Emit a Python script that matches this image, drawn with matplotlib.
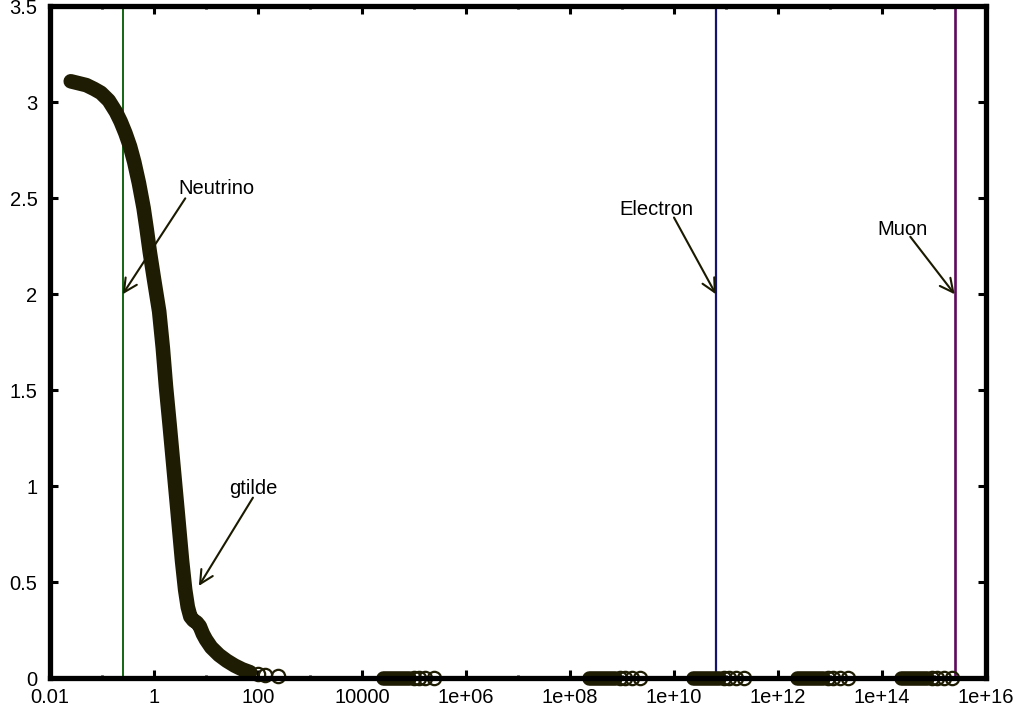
import numpy as np
import matplotlib
matplotlib.use('Agg')
import matplotlib.pyplot as plt
from matplotlib.ticker import FixedLocator, NullFormatter

plt.rcParams['font.family'] = ['Liberation Sans', 'DejaVu Sans']

# gtilde curve (dense part drawn as a thick band, tail as open circles)
curve_x = [0.0251, 0.0355, 0.0501, 0.0708, 0.0955, 0.135, 0.186, 0.229,
           0.282, 0.347, 0.417, 0.513, 0.631, 0.724, 0.832, 1.0, 1.26, 1.48,
           1.70, 2.0, 2.32, 2.82, 3.47, 3.98, 4.47, 5.01, 5.75, 6.61, 7.59,
           8.71, 10.0, 12.6, 17.8, 25.1, 35.5, 50.1, 70.8]
curve_y = [3.11, 3.10, 3.09, 3.07, 3.05, 3.01, 2.95, 2.90,
           2.84, 2.77, 2.69, 2.58, 2.45, 2.34, 2.22, 2.08, 1.91, 1.72,
           1.52, 1.32, 1.13, 0.88, 0.61, 0.46, 0.37, 0.32, 0.30, 0.29, 0.27,
           0.23, 0.20, 0.16, 0.12, 0.09, 0.065, 0.045, 0.03]
tail_x = [100, 135, 240]
tail_y = [0.02, 0.015, 0.01]

# groups of points lying on zero
group_start = [2.5e4, 2.3e8, 2.3e10, 2.3e12, 2.3e14]
group_end = [8.0e4, 7.4e8, 7.4e10, 7.4e12, 7.4e14]
group_pts = [[1.0e5, 1.25e5, 1.65e5, 2.4e5],
             [9.3e8, 1.15e9, 1.55e9, 2.25e9],
             [9.3e10, 1.15e11, 1.55e11, 2.25e11],
             [9.3e12, 1.15e13, 1.55e13, 2.25e13],
             [9.3e14, 1.15e15, 1.55e15, 2.25e15]]

# particle mass lines
masses = [0.25, 6.4e10, 2.5e15]
mass_colors = ['#005a00', '#14146e', '#5e0a5e']
mass_widths = [1.3, 1.6, 1.9]

labels = ['Neutrino', 'Electron', 'Muon', 'gtilde']
label_pos = [(3.0, 2.55), (9.1e8, 2.44), (8.3e13, 2.34), (27.6, 0.99)]
arrow_from = [(4.0, 2.5), (1.0e10, 2.4), (3.5e14, 2.3), (80, 0.94)]
arrow_to = [(0.25, 2.0), (6.4e10, 2.0), (2.5e15, 2.0), (7.3, 0.48)]

xticks = [1e-2, 1, 1e2, 1e4, 1e6, 1e8, 1e10, 1e12, 1e14, 1e16]
xticklabels = ['0.01', '1', '100', '10000', '1e+06', '1e+08', '1e+10',
               '1e+12', '1e+14', '1e+16']
xminor = [1e-1, 1e1, 1e3, 1e5, 1e7, 1e9, 1e11, 1e13, 1e15]
yticks = [0, 0.5, 1, 1.5, 2, 2.5, 3, 3.5]
yticklabels = ['0', '0.5', '1', '1.5', '2', '2.5', '3', '3.5']

pt_color = '#1e1c02'
band_lw = 10.5
ms = 9.6
mew = 1.6
fs = 14.5

fig = plt.figure(figsize=(10.26, 7.19), dpi=100)
ax = fig.add_axes([0.0487, 0.057, 0.9123, 0.934])
ax.set_xscale('log')
ax.set_xlim(1e-2, 1e16)
ax.set_ylim(0, 3.5)

for x, c, w in zip(masses, mass_colors, mass_widths):
    ax.axvline(x, color=c, lw=w, zorder=2)

ax.plot(curve_x, curve_y, '-', color=pt_color, lw=band_lw,
        solid_capstyle='round', solid_joinstyle='round', zorder=3, clip_on=False)
ax.plot(tail_x, tail_y, 'o', mfc='none', mec=pt_color, ms=ms, mew=mew,
        zorder=3, clip_on=False)
for s, e, pts in zip(group_start, group_end, group_pts):
    ax.plot([s, e], [0, 0], '-', color=pt_color, lw=band_lw,
            solid_capstyle='round', zorder=3, clip_on=False)
    ax.plot(pts, [0] * len(pts), 'o', mfc='none', mec=pt_color, ms=ms,
            mew=mew, zorder=3, clip_on=False)

for t, p in zip(labels, label_pos):
    ax.text(p[0], p[1], t, fontsize=fs, ha='left', va='center', color='black')
for a, b in zip(arrow_from, arrow_to):
    ax.annotate('', xy=b, xytext=a,
                arrowprops=dict(arrowstyle='->', color='#1a1a00', lw=1.5,
                                mutation_scale=24, shrinkA=0, shrinkB=0))

ax.xaxis.set_major_locator(FixedLocator(xticks))
ax.set_xticklabels(xticklabels)
ax.xaxis.set_minor_locator(FixedLocator(xminor))
ax.xaxis.set_minor_formatter(NullFormatter())
ax.set_yticks(yticks)
ax.set_yticklabels(yticklabels)

ax.tick_params(which='major', direction='in', length=6, width=2.2,
               top=True, right=True, labelsize=fs)
ax.tick_params(axis='x', which='major', pad=7)
ax.tick_params(axis='y', which='major', pad=9)
ax.tick_params(which='minor', direction='in', length=2.5, width=2,
               top=True, right=True)
for s in ax.spines.values():
    s.set_linewidth(3.8)
    s.set_zorder(4)

plt.savefig('out.png', dpi=100)
